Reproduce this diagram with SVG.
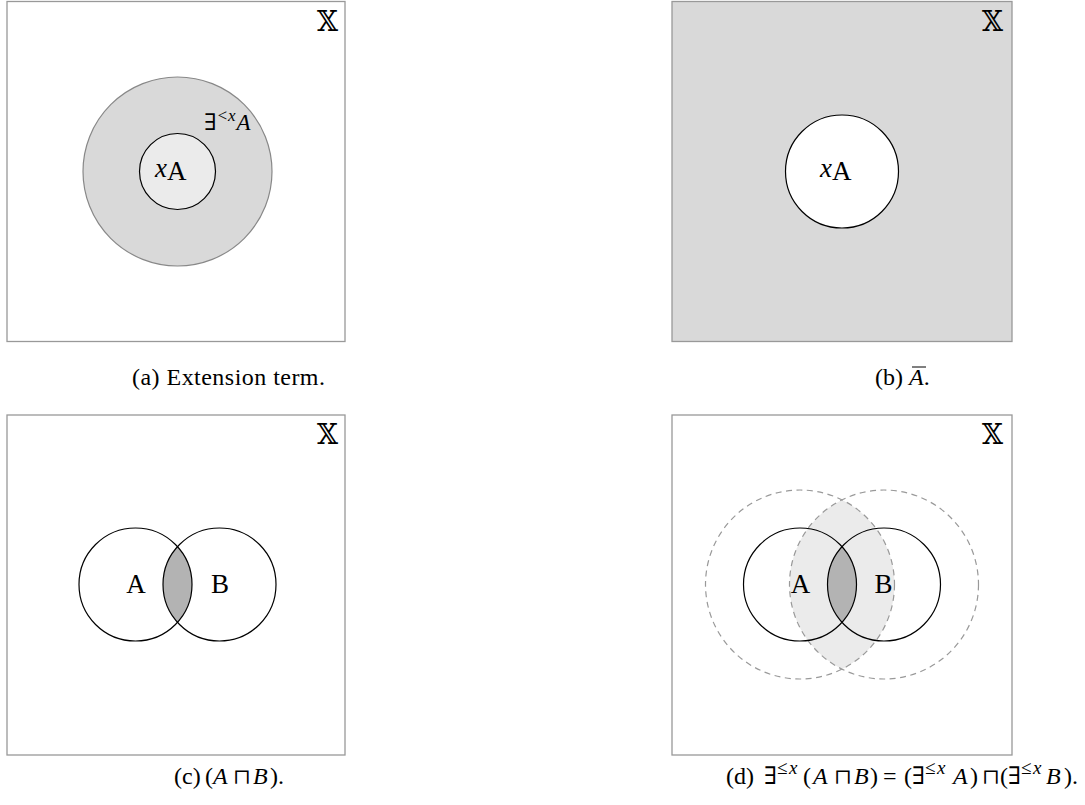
<svg xmlns="http://www.w3.org/2000/svg" width="1085" height="805" viewBox="0 0 1085 805">
<style>
.frame{stroke:#999;stroke-width:1.3}
.solid{stroke:#000;stroke-width:1.2}
.dash{fill:none;stroke:#999;stroke-width:1.2;stroke-dasharray:6 4.5}
.t{font-family:"Liberation Serif","DejaVu Serif",serif;fill:#000}
.lbl{font-size:27px}
.cap{font-size:24px}
.it{font-style:italic}
.sup{font-size:19px}
.op{font-family:"DejaVu Serif",serif;font-size:21px}
.bb{font-family:"DejaVu Serif","DejaVu Sans",serif;font-size:27px;fill:#000;text-anchor:end}
</style>
<defs>
<clipPath id="clipDA"><circle cx="800" cy="584.5" r="94.5"/></clipPath>
<clipPath id="clipSA"><circle cx="800" cy="584.5" r="56.5"/></clipPath>
<clipPath id="clipCA"><circle cx="135.5" cy="584.5" r="56.5"/></clipPath>
</defs>

<g id="panel-a">
<rect class="frame" x="7" y="1.5" width="338" height="340" fill="#fff"/>
<text class="bb" x="338" y="31">𝕏</text>
<circle cx="177.5" cy="171.5" r="94.5" fill="#d9d9d9" stroke="#888" stroke-width="1.2"/>
<circle class="solid" cx="177.5" cy="171.5" r="38" fill="#ebebeb"/>
<text class="t lbl" x="155" y="177"><tspan class="it">x</tspan><tspan dy="3">A</tspan></text>
<text class="t" x="204" y="130" font-size="23">∃<tspan class="it" font-size="17" dy="-9">&lt;x</tspan><tspan dy="9" dx="1" class="it">A</tspan></text>
</g>

<g id="panel-b">
<rect class="frame" x="672" y="1.5" width="340" height="340" fill="#d9d9d9"/>
<text class="bb" x="1003" y="31">𝕏</text>
<circle class="solid" cx="842" cy="171.5" r="56.5" fill="#fff"/>
<text class="t lbl" x="820" y="177"><tspan class="it">x</tspan><tspan dy="3">A</tspan></text>
</g>

<g id="panel-c">
<rect class="frame" x="7" y="415" width="338" height="340" fill="#fff"/>
<text class="bb" x="338" y="444">𝕏</text>
<circle cx="219.5" cy="584.5" r="56.5" fill="#b3b3b3" clip-path="url(#clipCA)"/>
<circle class="solid" cx="135.5" cy="584.5" r="56.5" fill="none"/>
<circle class="solid" cx="219.5" cy="584.5" r="56.5" fill="none"/>
<text class="t lbl" x="136" y="593" text-anchor="middle">A</text>
<text class="t lbl" x="220" y="593" text-anchor="middle">B</text>
</g>

<g id="panel-d">
<rect class="frame" x="672" y="415" width="340" height="340" fill="#fff"/>
<text class="bb" x="1003" y="444">𝕏</text>
<circle cx="884" cy="584.5" r="94.5" fill="#ebebeb" clip-path="url(#clipDA)"/>
<circle cx="884" cy="584.5" r="56.5" fill="#b3b3b3" clip-path="url(#clipSA)"/>
<circle class="dash" cx="800" cy="584.5" r="94.5"/>
<circle class="dash" cx="884" cy="584.5" r="94.5"/>
<circle class="solid" cx="800" cy="584.5" r="56.5" fill="none"/>
<circle class="solid" cx="884" cy="584.5" r="56.5" fill="none"/>
<text class="t lbl" x="800.5" y="593" text-anchor="middle">A</text>
<text class="t lbl" x="883.5" y="593" text-anchor="middle">B</text>
</g>

<g id="captions">
<text class="t cap" x="132" y="385" textLength="193">(a)  Extension term.</text>
<text class="t cap" y="385"><tspan x="875">(b)</tspan><tspan x="909" class="it">A</tspan><tspan>.</tspan></text>
<line x1="912" y1="367" x2="926" y2="367" stroke="#000" stroke-width="1"/>
<text class="t cap" y="784"><tspan x="174">(c)</tspan><tspan x="205">(</tspan><tspan x="213" class="it">A</tspan><tspan x="233" class="op">⊓</tspan><tspan x="253" class="it">B</tspan><tspan x="270">).</tspan></text>
<text class="t cap" y="784"><tspan x="726">(d)</tspan><tspan x="764">∃</tspan><tspan x="777" class="sup" dy="-10">≤</tspan><tspan x="789" class="sup it">x</tspan><tspan x="803" dy="10">(</tspan><tspan x="813" class="it">A</tspan><tspan x="834" class="op">⊓</tspan><tspan x="854" class="it">B</tspan><tspan x="870">)</tspan><tspan x="883">=</tspan><tspan x="904">(</tspan><tspan x="912">∃</tspan><tspan x="925" class="sup" dy="-10">≤</tspan><tspan x="937" class="sup it">x</tspan><tspan x="953" class="it" dy="10">A</tspan><tspan x="970">)</tspan><tspan x="982" class="op">⊓</tspan><tspan x="1000">(</tspan><tspan x="1008">∃</tspan><tspan x="1021" class="sup" dy="-10">≤</tspan><tspan x="1033" class="sup it">x</tspan><tspan x="1046" class="it" dy="10">B</tspan><tspan x="1064">).</tspan></text>
</g>
</svg>
